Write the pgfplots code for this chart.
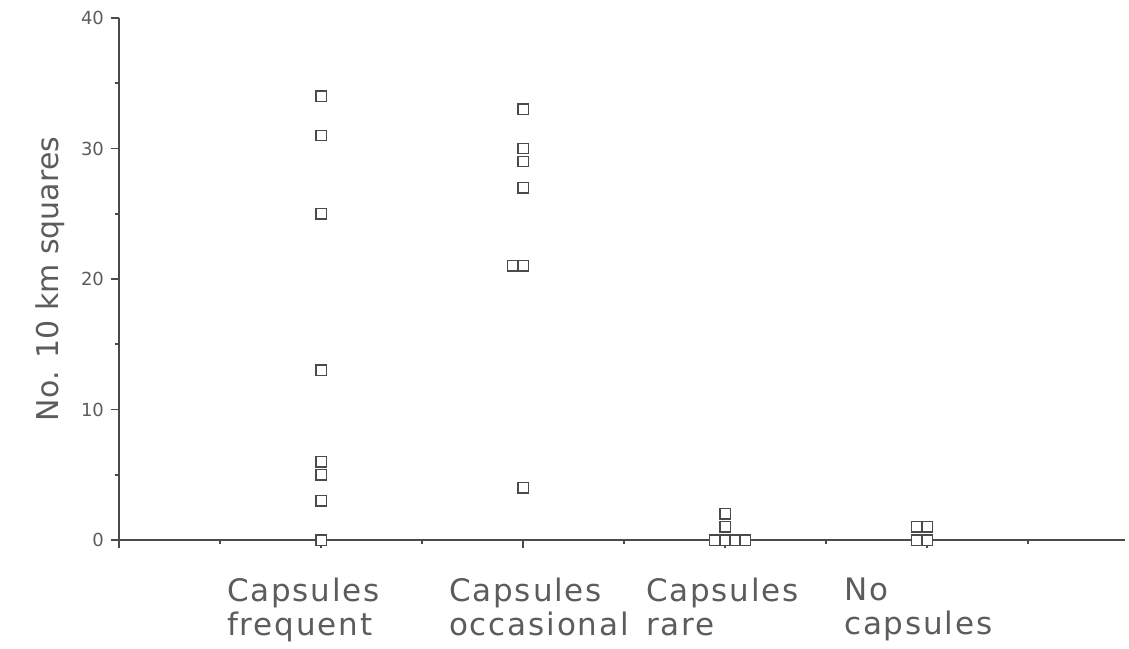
\documentclass[border=0pt]{standalone}
\usepackage{fontspec}
\setmainfont{DejaVu Sans}
\newfontfamily\labfont[LetterSpace=6]{DejaVu Sans}
\usepackage{pgfplots}
\pgfplotsset{compat=1.18}
\definecolor{ink}{HTML}{4A4A4A}
\definecolor{txt}{HTML}{5C5C5C}

\begin{document}
\begin{tikzpicture}
\begin{axis}[
    scale only axis,
    width=503pt, height=261pt,
    xmin=0, xmax=9.96, ymin=0, ymax=40,
    clip=false,
    axis x line=bottom, axis y line=left,
    axis line style={ink, line width=0.8pt, -},
    tick style={ink, line width=0.8pt},
    tick align=outside,
    major tick length=4pt, minor tick length=2pt,
    xtick={0,2,4,6,8}, minor xtick={1,3,5,7,9},
    ytick={0,10,20,30,40}, minor ytick={5,15,25,35},
    xticklabels={{},
        {\hspace*{-5.5pt}Capsules\\\hspace*{-5.5pt}frequent},
        {\hspace*{4.5pt}Capsules\\\hspace*{4.5pt}occasional},
        {\hspace*{2pt}Capsules\\\hspace*{2pt}rare},
        {No\\capsules}},
    xticklabel style={font=\labfont\fontsize{15.5}{17}\selectfont, text=txt,
        align=left, anchor=north west, xshift=-45pt, yshift=-11.5pt},
    yticklabel style={font=\fontsize{9}{10}\selectfont, text=txt},
    /pgf/number format/assume math mode=true,
    ylabel={No. 10 km squares},
    ylabel style={font=\fontsize{15}{17}\selectfont, text=txt,
        at={(axis description cs:-0.0686,0.5)}, anchor=center},
]
\addplot[only marks, mark=square*, mark size=2.6pt,
    mark options={draw=ink, fill=white, line width=0.7pt}] coordinates {
    % Capsules frequent
    (2,34) (2,31) (2,25) (2,13) (2,6) (2,5) (2,3) (2,0)
    % Capsules occasional
    (4,33) (4,30) (4,29) (4,27) (3.9,21) (4,21) (4,4)
    % Capsules rare
    (5.9,0) (6,0) (6.1,0) (6.2,0) (6,1) (6,2)
    % No capsules
    (7.9,0) (8,0) (7.9,1) (8,1)
};
\end{axis}
\pgfresetboundingbox
\useasboundingbox (-59.5pt,-54pt) rectangle (505pt,270pt);
\end{tikzpicture}
\end{document}
